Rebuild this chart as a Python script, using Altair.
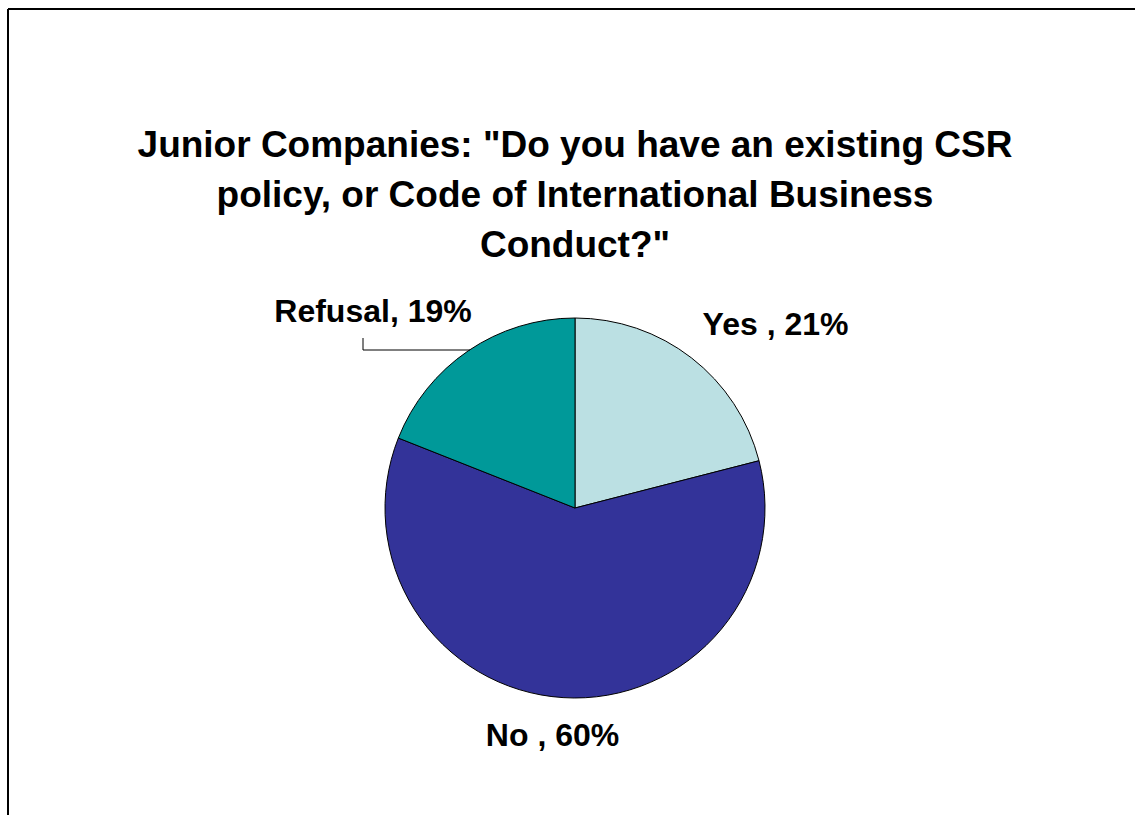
import altair as alt
import pandas as pd

categories = ["Yes", "No", "Refusal"]
values = [21, 60, 19]
labels = ["Yes , 21%", "No , 60%", "Refusal, 19%"]
orders = [0, 1, 2]
colors = ["#BBE0E3", "#333399", "#009999"]
title_lines = [
    'Junior Companies: "Do you have an existing CSR',
    "policy, or Code of International Business",
    'Conduct?"',
]

df = pd.DataFrame({"category": categories, "value": values, "label": labels, "order": orders})

FONT = "Liberation Sans"
theta_scale = alt.Scale(domain=[0, 100])

base = alt.Chart(df)

pie = base.mark_arc(stroke="black", strokeWidth=1).encode(
    theta=alt.Theta("value:Q", stack=True, scale=theta_scale),
    color=alt.Color("category:N", scale=alt.Scale(domain=categories, range=colors), legend=None),
    order=alt.Order("order:Q"),
)


def label_layer(cat, radius, dx, dy, align):
    return (
        base.transform_window(cum="sum(value)", sort=[alt.SortField("order")], frame=[None, 0])
        .transform_calculate(mid="datum.cum - datum.value / 2")
        .transform_filter(alt.datum.category == cat)
        .mark_text(radius=radius, dx=dx, dy=dy, align=align, baseline="alphabetic",
                   font=FONT, fontSize=32, fontWeight="bold", color="black")
        .encode(theta=alt.Theta("mid:Q", stack=False, scale=theta_scale), text="label:N")
    )


lbl_yes = label_layer("Yes", 200, 5, -15, "left")
lbl_no = label_layer("No", 230, -8, 8, "center")
lbl_ref = label_layer("Refusal", 230, 26, 4, "right")

ref_only = base.transform_filter(alt.datum.category == "Refusal")
leader_h = ref_only.mark_rule(color="black", strokeWidth=1).encode(
    x=alt.value(348), x2=alt.value(455), y=alt.value(32))
leader_v = ref_only.mark_rule(color="black", strokeWidth=1).encode(
    x=alt.value(348), y=alt.value(20), y2=alt.value(32))

frame_top = ref_only.mark_rule(color="black", strokeWidth=2).encode(
    x=alt.value(-7), x2=alt.value(1125), y=alt.value(-309))
frame_left = ref_only.mark_rule(color="black", strokeWidth=2).encode(
    x=alt.value(-7), y=alt.value(-309), y2=alt.value(500))

chart = alt.layer(pie, leader_h, leader_v, lbl_yes, lbl_no, lbl_ref, frame_top, frame_left).properties(
    width=1120,
    height=380,
    padding={"left": 15, "top": 318, "right": 0, "bottom": 117},
    autosize=alt.AutoSizeParams(type="none"),
    background="white",
    title=alt.TitleParams(
        text=title_lines, font=FONT, fontSize=37, fontWeight="bold", lineHeight=50,
        offset=-257, color="black", anchor="middle", frame="group",
    ),
).configure_view(stroke=None)

chart.save("out.html", embed_options={"renderer": "svg", "actions": False})
